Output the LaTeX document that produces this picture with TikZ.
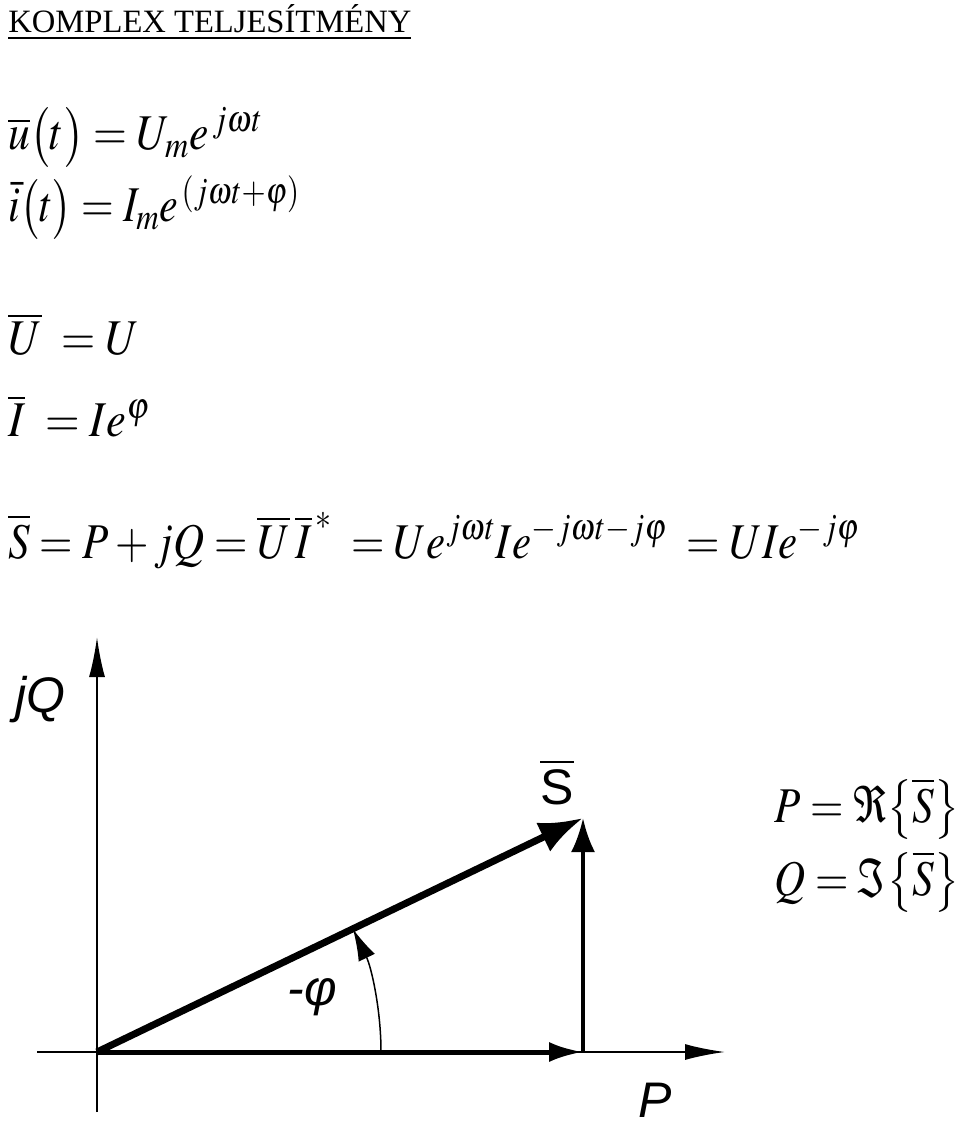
\documentclass[tikz,border=0pt]{standalone}
\usepackage{mathptmx}
\usepackage{fontspec}
\setmainfont{Liberation Serif}
\setsansfont{Liberation Sans}
\usetikzlibrary{arrows.meta,positioning}

\tikzset{
  eq/.style={anchor=base west, inner sep=0pt, font=\fontsize{25}{28}\selectfont},
  lbl/.style={inner sep=0pt, font=\sffamily\itshape\fontsize{25}{28}\selectfont},
  axis/.style={line width=1pt, -{Latex[length=20pt,width=8pt]}},
  vecS/.style={line width=3.5pt, -{Latex[length=22pt,width=16pt]}},
  vecP/.style={line width=2.5pt, -{Latex[length=17pt,width=10pt]}},
  vecQ/.style={line width=2pt, -{Latex[length=17pt,width=12pt]}},
  angarrow/.style={line width=.75pt, -{Latex[length=16pt,width=9pt]}}
}
\newcommand{\narrow}[2]{\scalebox{#1}[1]{#2}}

\begin{document}
\begin{tikzpicture}[x=0.5pt,y=-0.5pt]
\useasboundingbox (0,0) rectangle (960,1127);

% cim
\node[anchor=base west, inner sep=0pt, font=\fontsize{16.3}{18}\selectfont] (title) at (8,33)
  {\underline{KOMPLEX TELJESÍTMÉNY}};

% idofuggvenyek
\node[eq] (equ) at (8,150) {\narrow{.87}{$\overline{u}\bigl(t\bigr)=U_{m}e^{\,j\omega t}$}};
\node[eq] (eqi) at (8,222) {\narrow{.84}{$\bar{i}\bigl(t\bigr)=I_{m}e^{\,(j\omega t+\varphi)}$}};

% fazorok
\node[eq] (eqU) at (8,355) {\narrow{.88}{$\overline{U}\;=U$}};
\node[eq] (eqI) at (8,437) {\narrow{.89}{$\overline{I}\;=Ie^{\varphi}$}};

% komplex teljesitmeny
\node[eq] (eqS) at (8,558) {\narrow{.86}{$\overline{S}=P+jQ=\overline{U}\,\overline{I}^{\,*}\;=Ue^{j\omega t}Ie^{-j\omega t-j\varphi}\;=UIe^{-j\varphi}$}};

% P es Q
\node[eq] (eqP) at (774,822) {\narrow{.86}{$P=\Re\bigl\{\overline{S}\bigr\}$}};
\node[eq] (eqQ) at (774,895) {\narrow{.86}{$Q=\Im\bigl\{\overline{S}\bigr\}$}};

% tengelyek
\coordinate (O) at (97,1052);
\coordinate (Qbot) at (97,1112);
\coordinate (Qtop) at (97,637);
\coordinate (Pleft) at (37,1052);
\coordinate (Pright) at (725,1052);
\draw[axis] (Qbot) -- (Qtop);
\draw[axis] (Pleft) -- (Pright);
\node[lbl] (jQ) at (40,700) {jQ};
\node[lbl] (Plbl) at (655,1100) {P};

% vektorok
\coordinate (Sfoot) at (583,1052);
\coordinate (S) at (583,818);
\draw[vecP] (O) -- (Sfoot);
\draw[vecQ] (Sfoot) -- (S);
\draw[vecS] (O) -- (S);
\node[lbl, font=\sffamily\fontsize{25}{28}\selectfont] (Slbl) at (557,782) {$\overline{\mbox{S}}$};

% szog
\coordinate (A0) at (381,1052);
\draw[angarrow] (A0) arc[start angle=0, end angle=-25.7, radius=284];
\node[lbl] (philbl) at (312,997) {-φ};

\end{tikzpicture}
\end{document}
